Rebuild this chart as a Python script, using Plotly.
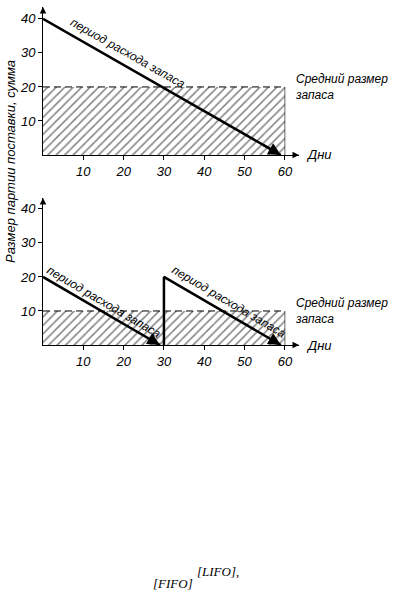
import plotly.graph_objects as go

# ---- data ----
x_ticks = [10, 20, 30, 40, 50, 60]
y_ticks = [10, 20, 30, 40]

# top chart: one delivery of 40 consumed over 60 days
top_days = [0, 59]
top_stock = [40, 0]
top_avg = 20
period_end = 60

# bottom chart: two deliveries of 20, each consumed over 30 days
bot_days_a = [0, 29]
bot_stock_a = [20, 0]
bot_days_b = [30, 30, 59]
bot_stock_b = [0, 20, 0]
bot_avg = 10

W, H = 396, 606
FONT = "Liberation Sans Narrow, Arial Narrow, Liberation Sans, sans-serif"
ital = dict(family=FONT, size=12, color="black", style="italic")
tickf = dict(family=FONT, size=13, color="black", style="italic")

fig = go.Figure()

def hatch(xa, ya, avg):
    fig.add_trace(go.Scatter(
        x=[0, period_end, period_end, 0, 0], y=[0, 0, avg, avg, 0],
        xaxis=xa, yaxis=ya, mode="lines", line=dict(width=0),
        fill="toself", fillcolor="white",
        fillpattern=dict(shape="/", size=6, solidity=0.25, fgcolor="black", bgcolor="white"),
        hoverinfo="skip", showlegend=False))
    fig.add_trace(go.Scatter(
        x=[0, period_end], y=[avg, avg], xaxis=xa, yaxis=ya, mode="lines",
        line=dict(color="black", width=1, dash="7px,4px"), showlegend=False))
    fig.add_trace(go.Scatter(
        x=[period_end, period_end], y=[0, avg], xaxis=xa, yaxis=ya, mode="lines",
        line=dict(color="black", width=0.6), showlegend=False))

hatch("x", "y", top_avg)
hatch("x2", "y2", bot_avg)

fig.add_trace(go.Scatter(x=top_days, y=top_stock, xaxis="x", yaxis="y", mode="lines",
                         line=dict(color="black", width=2.5), showlegend=False))
fig.add_trace(go.Scatter(x=bot_days_a, y=bot_stock_a, xaxis="x2", yaxis="y2", mode="lines",
                         line=dict(color="black", width=2.5), showlegend=False))
fig.add_trace(go.Scatter(x=bot_days_b, y=bot_stock_b, xaxis="x2", yaxis="y2", mode="lines",
                         line=dict(color="black", width=2.5), showlegend=False))

def arrowhead(xr, yr, xs, ys):
    # arrowhead on the last segment of a line
    x1, y1 = xs[-1], ys[-1]
    x0, y0 = xs[-2], ys[-2]
    t = 0.08
    fig.add_annotation(x=x1, y=y1, ax=x1 - (x1 - x0) * t, ay=y1 - (y1 - y0) * t,
                       xref=xr, yref=yr, axref=xr, ayref=yr, showarrow=True, text="",
                       arrowhead=2, arrowsize=1, arrowwidth=2.5, arrowcolor="black")

arrowhead("x", "y", top_days, top_stock)
arrowhead("x2", "y2", bot_days_a, bot_stock_a)
arrowhead("x2", "y2", bot_days_b, bot_stock_b)

xdom = [43 / W, 299 / W]
xmax = 63.5
axis_common = dict(showgrid=False, zeroline=False, showline=True, linecolor="black",
                   linewidth=1, ticks="outside", ticklen=4, tickcolor="black",
                   tickfont=tickf)
fig.update_layout(
    width=W, height=H, margin=dict(l=0, r=0, t=0, b=0),
    paper_bgcolor="white", plot_bgcolor="white", showlegend=False,
    xaxis=dict(domain=xdom, range=[0, xmax], anchor="y", tickvals=x_ticks, **axis_common),
    yaxis=dict(domain=[(H - 155) / H, (H - 7) / H], range=[0, 43.5], anchor="x",
               tickvals=y_ticks, **axis_common),
    xaxis2=dict(domain=xdom, range=[0, xmax], anchor="y2", tickvals=x_ticks, **axis_common),
    yaxis2=dict(domain=[(H - 345) / H, (H - 198) / H], range=[0, 43.2], anchor="x2",
                tickvals=y_ticks, **axis_common),
)

# axis arrows
for xr, yr, ytop in [("x", "y", 43.5), ("x2", "y2", 43.2)]:
    fig.add_annotation(x=xmax, y=0, xref=xr, yref=yr, ax=-7, ay=0, showarrow=True, text="",
                       arrowhead=2, arrowsize=1.3, arrowwidth=1, arrowcolor="black")
    fig.add_annotation(x=0, y=ytop, xref=xr, yref=yr, ax=0, ay=7, showarrow=True, text="",
                       arrowhead=2, arrowsize=1.3, arrowwidth=1, arrowcolor="black")
    fig.add_annotation(x=xmax, y=0, xref=xr, yref=yr, xanchor="left", yanchor="middle",
                       xshift=5, text="Дни", showarrow=False, font=tickf)

label = "период расхода запаса"
fig.add_annotation(x=21, y=30, xref="x", yref="y", text=label, textangle=29.5,
                   showarrow=False, font=ital)
fig.add_annotation(x=15.1, y=12.6, xref="x2", yref="y2", text=label, textangle=30.5,
                   showarrow=False, font=ital)
fig.add_annotation(x=46.2, y=12.6, xref="x2", yref="y2", text=label, textangle=30.5,
                   showarrow=False, font=ital)

for yr, avg in [("y", top_avg), ("y2", bot_avg)]:
    fig.add_annotation(x=293 / W, y=avg, xref="paper", yref=yr, xanchor="left",
                       yanchor="middle", align="left", text="Средний размер<br>запаса",
                       showarrow=False, font=ital)

fig.add_annotation(x=10 / W, y=(H - 162) / H, xref="paper", yref="paper",
                   xanchor="center", yanchor="middle",
                   text="Размер партии поставки, сумма", textangle=-90,
                   showarrow=False, font=tickf)

serif = dict(family="Liberation Serif, DejaVu Serif, serif", size=13, color="black",
             style="italic")
fig.add_annotation(x=218 / W, y=(H - 571) / H, xref="paper", yref="paper",
                   xanchor="center", yanchor="middle",
                   text="[LIFO],", showarrow=False, font=serif)
fig.add_annotation(x=173 / W, y=(H - 583) / H, xref="paper", yref="paper",
                   xanchor="center", yanchor="middle",
                   text="[FIFO]", showarrow=False, font=serif)

fig.write_html("out.html", config={"displayModeBar": False},
               post_script="document.body.style.margin='0';")
